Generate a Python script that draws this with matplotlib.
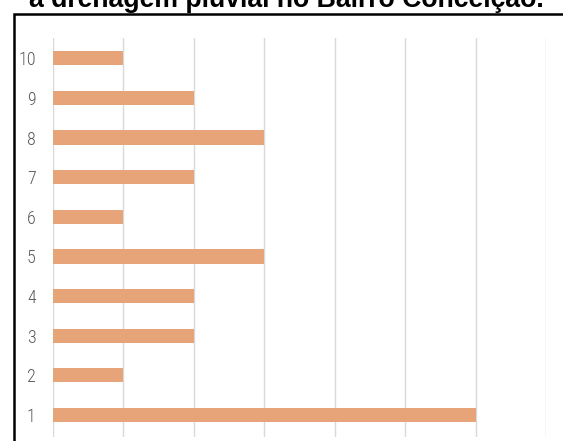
import matplotlib
matplotlib.use("Agg")
import matplotlib.pyplot as plt
from matplotlib.patches import Rectangle

categories = ["1", "2", "3", "4", "5", "6", "7", "8", "9", "10"]
values = [6, 1, 2, 2, 3, 1, 2, 3, 2, 1]
x_ticks = [0, 1, 2, 3, 4, 5, 6, 7]
title = "a drenagem pluvial no Bairro Conceição."

W, H = 563, 441
fig = plt.figure(figsize=(W / 100, H / 100), dpi=100)
fig.patch.set_facecolor("white")

# outer chart frame (cropped at right/bottom)
fig.patches.append(Rectangle((13.5 / W, -0.1), 1.2, 1 - 13.5 / H + 0.1,
                             transform=fig.transFigure, fill=False,
                             edgecolor="black", linewidth=1.8, zorder=5))

fig.text(286.5 / W, 1 - 7 / H, title, ha="center", va="baseline",
         fontsize=19.2, fontweight="bold", family=["Liberation Sans", "DejaVu Sans"],
         color="black")

ax = fig.add_axes([53 / W, 4 / H, (546 - 53) / W, (437 - 38) / H])
pos = list(range(len(categories)))
ax.barh(pos, values, height=0.36, color="#E8A479", zorder=3)
ax.set_xlim(0, 7)
ax.set_ylim(-0.555, 9.51)
ax.set_xticks(x_ticks)
ax.set_xticklabels([])
ax.set_yticks(pos)
ax.set_yticklabels(categories, family=["Roboto Condensed", "DejaVu Sans"],
                   fontstretch="condensed", fontweight="light",
                   fontsize=13, color="#595959")
ax.tick_params(axis="both", length=0)
ax.tick_params(axis="y", pad=12.5)
ax.grid(axis="x", color="#D9D9D9", linewidth=1, zorder=0)
ax.grid(axis="y", visible=False)
for s in ax.spines.values():
    s.set_visible(False)

fig.savefig("out.png", dpi=100)
